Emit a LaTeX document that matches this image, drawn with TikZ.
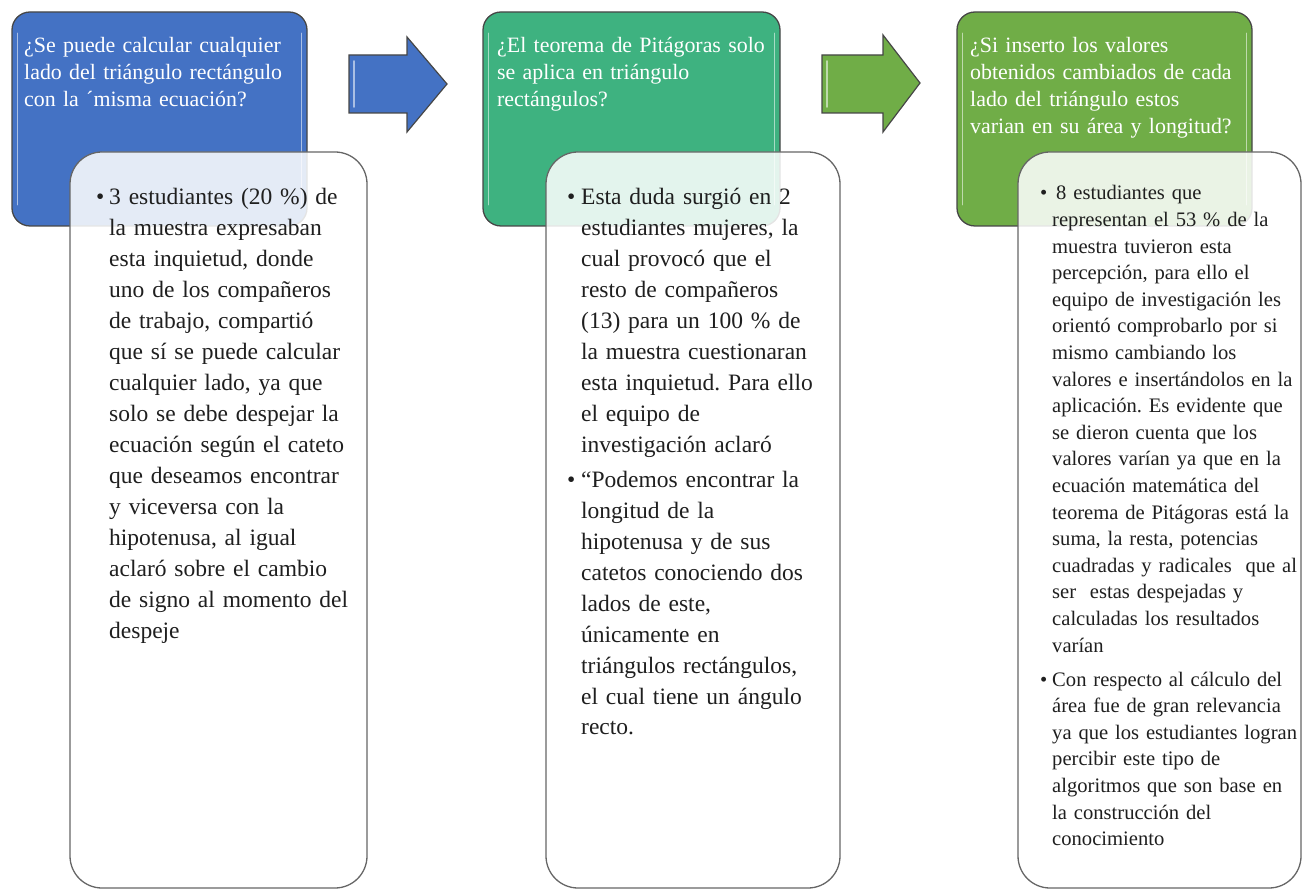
\documentclass[tikz,border=0pt]{standalone}
\usepackage{fontspec}
\setmainfont{Liberation Serif}
\frenchspacing
\definecolor{cblue}{RGB}{68,114,196}
\definecolor{cteal}{RGB}{62,178,128}
\definecolor{cgreen}{RGB}{112,173,71}
\definecolor{cborder}{RGB}{70,70,70}
\tikzset{
  hdr/.style={draw=cborder, line width=1.3pt, rounded corners=18pt, minimum width=295pt, minimum height=214pt, inner sep=0pt},
  wbox/.style={draw=black!60, line width=1.3pt, rounded corners=32pt, fill=white, fill opacity=0.86, minimum height=736pt, inner sep=0pt},
  hilite/.style={draw=white, draw opacity=0.55, line width=1.6pt, line cap=round},
  blockarrow/.style={draw=cborder, line width=1.2pt, line join=miter},
  htext/.style={text=white, font=\fontsize{21.9}{27}\selectfont, anchor=base west, inner sep=0pt, text width=300pt, align=left},
  btext/.style={text=black!88, font=\fontsize{23.5}{31}\selectfont, anchor=base west, inner sep=0pt, text width=300pt, align=left},
  ctext/.style={text=black!88, font=\fontsize{20.6}{26.6}\selectfont, anchor=base west, inner sep=0pt, text width=300pt, align=left},
  bul/.style={text=black!88, anchor=base west, inner sep=0pt},
}
\begin{document}
\begin{tikzpicture}[x=1pt,y=-1pt]
\useasboundingbox (0,0) rectangle (1304,890);

% header boxes
\node[hdr, fill=cblue] (h1) at (159.5,119) {};
\node[hdr, fill=cteal, minimum width=297pt] (h2) at (631.5,119) {};
\node[hdr, fill=cgreen] (h3) at (1104.5,119) {};
\draw[hilite] ([shift={(6pt,-22pt)}]h1.north west) -- ([shift={(6pt,22pt)}]h1.south west);
\draw[hilite] ([shift={(-6pt,-22pt)}]h1.north east) -- ([shift={(-6pt,22pt)}]h1.south east);
\draw[hilite] ([shift={(6pt,-22pt)}]h2.north west) -- ([shift={(6pt,22pt)}]h2.south west);
\draw[hilite] ([shift={(-6pt,-22pt)}]h2.north east) -- ([shift={(-6pt,22pt)}]h2.south east);
\draw[hilite] ([shift={(6pt,-22pt)}]h3.north west) -- ([shift={(6pt,22pt)}]h3.south west);
\draw[hilite] ([shift={(-6pt,-22pt)}]h3.north east) -- ([shift={(-6pt,22pt)}]h3.south east);

% block arrows
\coordinate (a1) at (349,55);
\coordinate (a2) at (822,55);
\draw[blockarrow, fill=cblue] (a1) -- ++(58,0) -- ++(0,-18) -- ++(40,47) -- ++(-40,48) -- ++(0,-19) -- ++(-58,0) -- cycle;
\draw[blockarrow, fill=cgreen] (a2) -- ++(61,0) -- ++(0,-20) -- ++(37,48) -- ++(-37,49) -- ++(0,-19) -- ++(-61,0) -- cycle;
\draw[hilite] ([shift={(5,6)}]a1) -- ++(0,46);
\draw[hilite] ([shift={(5,6)}]a2) -- ++(0,46);

% header texts
\node[htext] (q1) at (24,53) {¿Se puede calcular cualquier\\lado del triángulo rectángulo\\con la ´misma ecuación?};
\node[htext] (q2) at (497,53) {¿El teorema de Pitágoras solo\\se aplica en triángulo\\rectángulos?};
\node[htext] (q3) at (970,53) {¿Si inserto los valores\\obtenidos cambiados de cada\\lado del triángulo estos\\varian en su área y longitud?};

% white boxes
\node[wbox, minimum width=297pt] (w1) at (218.5,520) {};
\node[wbox, minimum width=294pt] (w2) at (693,520) {};
\node[wbox, minimum width=283pt] (w3) at (1159.5,520) {};

% box 1 body
\node[bul, font=\fontsize{23.5}{31}\selectfont] (b1) at (96,205) {•};
\node[btext] (p1) at (109,205) {3 estudiantes (20 \%) de\\la muestra expresaban\\esta inquietud, donde\\uno de los compañeros\\de trabajo, compartió\\que sí se puede calcular\\cualquier lado, ya que\\solo se debe despejar la\\ecuación según el cateto\\que deseamos encontrar\\y viceversa con la\\hipotenusa, al igual\\aclaró sobre el cambio\\de signo al momento del\\despeje};

% box 2 body
\node[bul, font=\fontsize{23.5}{31}\selectfont] (b2) at (567,205) {•};
\node[btext] (p2) at (581,205) {Esta duda surgió en 2\\estudiantes mujeres, la\\cual provocó que el\\resto de compañeros\\(13) para un 100 \% de\\la muestra cuestionaran\\esta inquietud. Para ello\\el equipo de\\investigación aclaró};
\node[bul, font=\fontsize{23.5}{31}\selectfont] (b3) at (567,487) {•};
\node[btext] (p3) at (581,487) {“Podemos encontrar la\\longitud de la\\hipotenusa y de sus\\catetos conociendo dos\\lados de este,\\únicamente en\\triángulos rectángulos,\\el cual tiene un ángulo\\recto.};

% box 3 body
\node[bul, font=\fontsize{20.6}{26.6}\selectfont] (b4) at (1040,200) {•};
\node[ctext] (p4) at (1052,200) {\hspace*{4pt}8 estudiantes que\\representan el 53 \% de la\\muestra tuvieron esta\\percepción, para ello el\\equipo de investigación les\\orientó comprobarlo por si\\mismo cambiando los\\valores e insertándolos en la\\aplicación. Es evidente que\\se dieron cuenta que los\\valores varían ya que en la\\ecuación matemática del\\teorema de Pitágoras está la\\suma, la resta, potencias\\cuadradas y radicales\ \ que al\\ser\ \ estas despejadas y\\calculadas los resultados\\varían};
\node[bul, font=\fontsize{20.6}{26.6}\selectfont] (b5) at (1040,686) {•};
\node[ctext] (p5) at (1052,686) {Con respecto al cálculo del\\área fue de gran relevancia\\ya que los estudiantes logran\\percibir este tipo de\\algoritmos que son base en\\la construcción del\\conocimiento};
\end{tikzpicture}
\end{document}
